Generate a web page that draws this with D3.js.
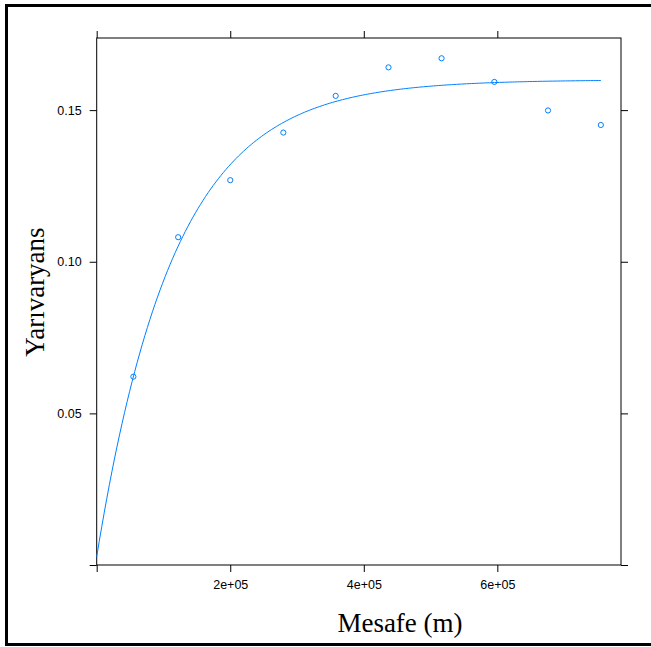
<!DOCTYPE html>
<html>
<head>
<meta charset="utf-8">
<script src="https://cdn.jsdelivr.net/npm/d3@7"></script>
<style>
  html, body { margin: 0; padding: 0; background: #fff; }
  svg { display: block; }
</style>
</head>
<body>
<svg id="chart" width="651" height="647"></svg>
<script>
// Empirical semivariogram: lag distances (m) and semivariance
const distances = [54900, 122000, 200000, 279500, 357900, 437000, 516500, 595500, 675900, 755000];
const gammas    = [0.0621, 0.1081, 0.1269, 0.1426, 0.1547, 0.1641, 0.1671, 0.1593, 0.1499, 0.1451];

// Fitted exponential variogram model
const nugget = 0.0027;
const psill = 0.1573;
const rangeParam = 115800;

// Axis ticks and labels
const xTicks = [0, 200000, 400000, 600000];
const xTickLabels = ["", "2e+05", "4e+05", "6e+05"];
const yTicks = [0, 0.05, 0.10, 0.15];
const yTickLabels = ["", "0.05", "0.10", "0.15"];

const xTitle = "Mesafe (m)";
const yTitle = "Yarıvaryans";

const svg = d3.select("#chart");

// outer frame
svg.append("rect")
  .attr("x", 6.5).attr("y", 5.5)
  .attr("width", 720).attr("height", 639)
  .attr("fill", "none").attr("stroke", "#000").attr("stroke-width", 3);

const panel = { left: 96.7, right: 621, top: 38, bottom: 565 };

const maxDist = d3.max(distances);
const maxGamma = d3.max(gammas);
const x = d3.scaleLinear().domain([0, 1.04 * maxDist]).range([panel.left, panel.right]);
const y = d3.scaleLinear().domain([0, 1.04 * maxGamma]).range([panel.bottom, panel.top]);

const tickLen = 7;
const tickFont = "'Liberation Sans', Arial, sans-serif";

// axes: labelled on bottom/left, tick marks only on top/right
const axBottom = d3.axisBottom(x).tickValues(xTicks).tickSize(tickLen).tickSizeOuter(0)
  .tickFormat((d, i) => xTickLabels[i]).tickPadding(8);
const axTop = d3.axisTop(x).tickValues(xTicks).tickSize(tickLen).tickSizeOuter(0).tickFormat("");
const axLeft = d3.axisLeft(y).tickValues(yTicks).tickSize(tickLen).tickSizeOuter(0)
  .tickFormat((d, i) => yTickLabels[i]).tickPadding(8);
const axRight = d3.axisRight(y).tickValues(yTicks).tickSize(tickLen).tickSizeOuter(0).tickFormat("");

function styleAxis(g) {
  g.select(".domain").remove();
  g.selectAll(".tick line").attr("stroke", "#000").attr("stroke-width", 1);
  g.selectAll(".tick text").attr("fill", "#000")
    .style("font-family", tickFont).style("font-size", "12.5px");
}

svg.append("g").attr("transform", `translate(0,${panel.bottom})`).call(axBottom).call(styleAxis);
svg.append("g").attr("transform", `translate(0,${panel.top})`).call(axTop).call(styleAxis);
svg.append("g").attr("transform", `translate(${panel.left},0)`).call(axLeft).call(styleAxis);
svg.append("g").attr("transform", `translate(${panel.right},0)`).call(axRight).call(styleAxis);

// panel box
svg.append("rect")
  .attr("x", panel.left).attr("y", panel.top)
  .attr("width", panel.right - panel.left).attr("height", panel.bottom - panel.top)
  .attr("fill", "none").attr("stroke", "#000").attr("stroke-width", 1);

const blue = "#0080ff";

// model line, evaluated over the lag range
const nLine = 200;
const lineDist = d3.range(nLine).map(i => 1e-6 * maxDist + i * (maxDist - 1e-6 * maxDist) / (nLine - 1));
const modelGamma = h => nugget + psill * (1 - Math.exp(-h / rangeParam));

svg.append("path")
  .datum(lineDist)
  .attr("fill", "none")
  .attr("stroke", blue)
  .attr("stroke-width", 1)
  .attr("d", d3.line().x(d => x(d)).y(d => y(modelGamma(d))));

// empirical points
svg.append("g").selectAll("circle")
  .data(distances.map((d, i) => [d, gammas[i]]))
  .join("circle")
  .attr("cx", d => x(d[0]))
  .attr("cy", d => y(d[1]))
  .attr("r", 2.6)
  .attr("fill", "none")
  .attr("stroke", blue)
  .attr("stroke-width", 1);

// axis titles
const titleFont = "'Liberation Serif', 'Times New Roman', serif";
svg.append("text")
  .attr("x", 400).attr("y", 632)
  .attr("text-anchor", "middle")
  .style("font-family", titleFont).style("font-size", "27px")
  .attr("fill", "#000")
  .text(xTitle);

svg.append("text")
  .attr("transform", "translate(44,292) rotate(-90)")
  .attr("text-anchor", "middle")
  .style("font-family", titleFont).style("font-size", "27px")
  .attr("fill", "#000")
  .text(yTitle);
</script>
</body>
</html>
